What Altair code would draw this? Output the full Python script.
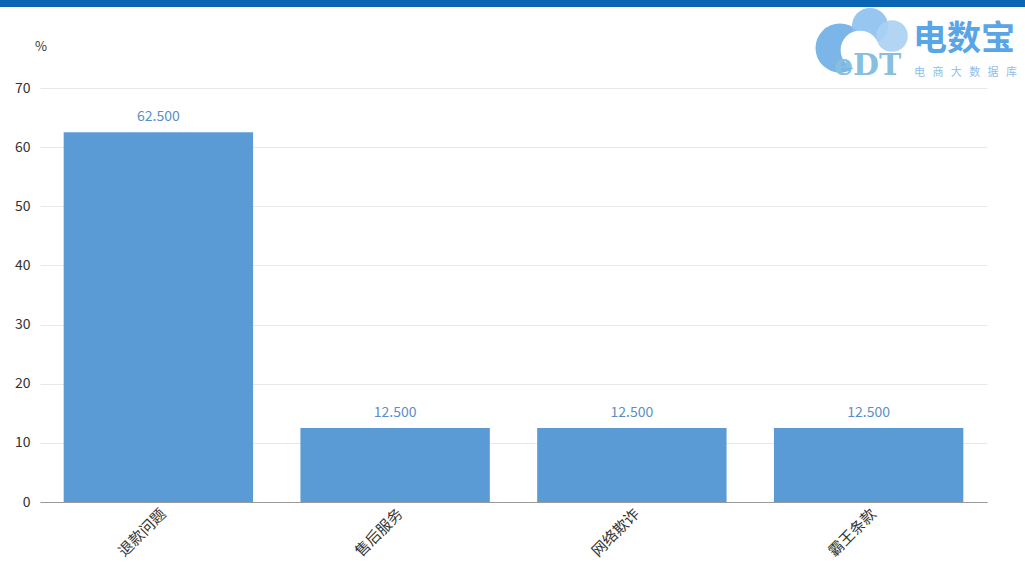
import altair as alt
import pandas as pd

categories = ["退款问题", "售后服务", "网络欺诈", "霸王条款"]
values = [62.5, 12.5, 12.5, 12.5]
y_ticks = [0, 10, 20, 30, 40, 50, 60, 70]

df = pd.DataFrame({"cat": categories, "val": values})

FONT = "Noto Sans CJK SC"
W, H = 947, 414
NB = "\u00a0"

base = alt.Chart(df)

bars = base.mark_bar(color="#5b9bd5").encode(
    x=alt.X("cat:N", sort=categories,
            scale=alt.Scale(paddingInner=0.2, paddingOuter=0.1),
            axis=alt.Axis(title=None, labelAngle=-45, labelFont=FONT, labelFontSize=15,
                          labelColor="#333333", ticks=False, domainColor="#999999",
                          labelPadding=4, grid=False)),
    y=alt.Y("val:Q", scale=alt.Scale(domain=[0, 70]),
            axis=alt.Axis(title=None, values=y_ticks, labelFont=FONT, labelFontSize=14,
                          labelColor="#333333", ticks=False, domain=False,
                          gridColor="#e8e8e8", labelPadding=10)),
)

labels = base.mark_text(dy=-15, font=FONT, fontSize=14, color="#5b8fc4").encode(
    x=alt.X("cat:N", sort=categories),
    y="val:Q",
    text=alt.Text("val:Q", format=".3f"),
)

deco = pd.DataFrame({"k": [0]})
topbar = alt.Chart(deco).mark_rect(color="#0a65b4").encode(
    x=alt.value(-40), x2=alt.value(W + 60), y=alt.value(-88), y2=alt.value(-81)
)
pct = alt.Chart(deco).mark_text(font=FONT, fontSize=13, color="#333333").encode(
    x=alt.value(1), y=alt.value(-41), text=alt.value("%")
)


def blob(cx, cy, size, color, op):
    return alt.Chart(deco).mark_circle(color=color, opacity=op).encode(
        x=alt.value(cx), y=alt.value(cy), size=alt.value(size)
    )


cloud = alt.layer(
    blob(800, -40, 2400, "#6eaee6", 0.9),
    blob(830, -62, 1300, "#8cc0ee", 0.9),
    blob(852, -52, 1000, "#a9d0f2", 0.9),
    blob(820, -38, 1500, "#ffffff", 1.0),
)
logo_main = alt.Chart(deco).mark_text(font=FONT, fontSize=34, fontWeight="bold", color="#5aa5e6", align="left").encode(
    x=alt.value(873), y=alt.value(-48), text=alt.value("电数宝")
)
logo_sub = alt.Chart(deco).mark_text(font=FONT, fontSize=11, color="#8fbde8", align="left").encode(
    x=alt.value(874), y=alt.value(-15), text=alt.value((NB * 3).join("电商大数据库"))
)
logo_edt = alt.Chart(deco).mark_text(font="DejaVu Serif", fontSize=30, fontWeight="bold", color="#86bfe0", align="left").encode(
    x=alt.value(794), y=alt.value(-22), text=alt.value("eDT")
)

chart = alt.layer(topbar, bars, labels, pct, cloud, logo_edt, logo_main, logo_sub).properties(
    width=W, height=H,
    autosize=alt.AutoSizeParams(type="none"),
    padding={"left": 40, "top": 88, "right": 38, "bottom": 60},
    background="white",
).configure_view(stroke=None)

chart.save("out.html", embed_options={"renderer": "svg", "actions": False})
